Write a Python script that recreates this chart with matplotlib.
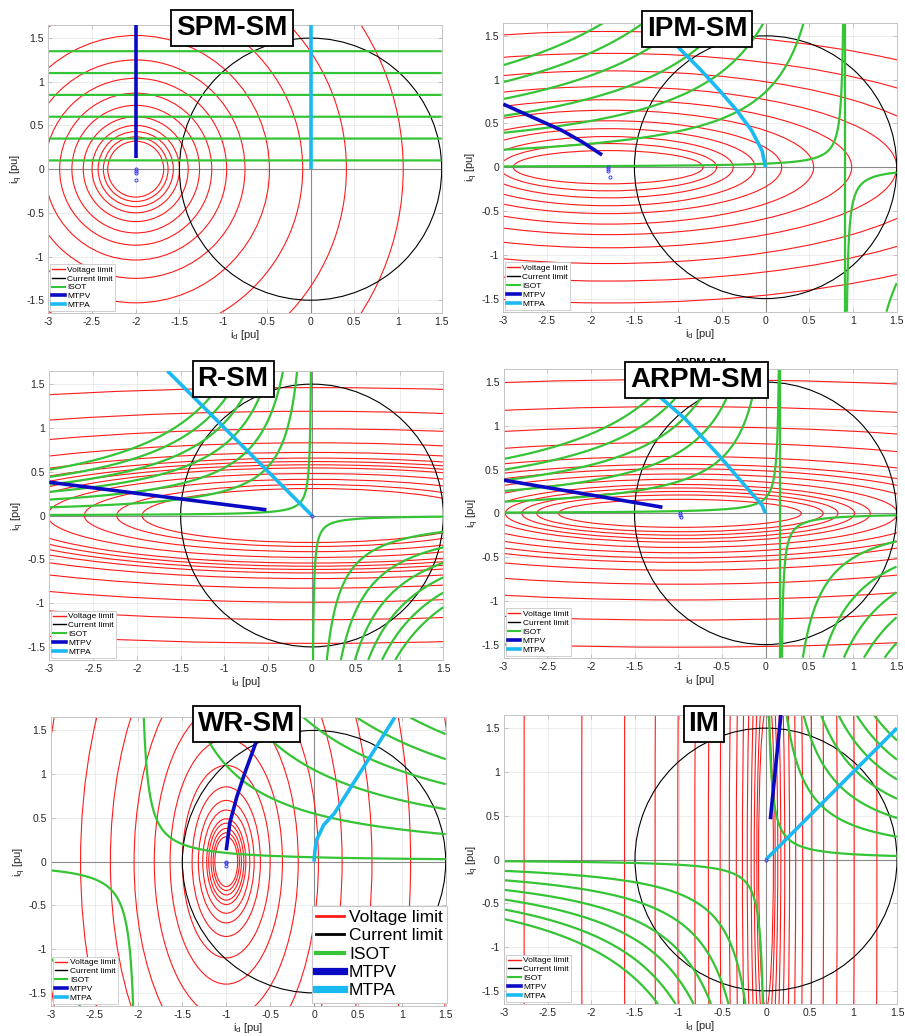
import numpy as np
import matplotlib
matplotlib.use("Agg")
import matplotlib.pyplot as plt
from matplotlib.patches import Ellipse, Circle
from matplotlib.lines import Line2D

plt.rcParams['font.family'] = ['Liberation Sans', 'DejaVu Sans']
plt.rcParams['mathtext.fontset'] = 'custom'
plt.rcParams['mathtext.rm'] = 'Liberation Sans'

# ---------------------------------------------------------------- common
ID_TICKS = [-3, -2.5, -2, -1.5, -1, -0.5, 0, 0.5, 1, 1.5]
IQ_TICKS = [-1.5, -1, -0.5, 0, 0.5, 1, 1.5]
ID_TICK_LABELS = ["-3", "-2.5", "-2", "-1.5", "-1", "-0.5", "0", "0.5", "1", "1.5"]
IQ_TICK_LABELS = ["-1.5", "-1", "-0.5", "0", "0.5", "1", "1.5"]
ID_RANGE = (-3.0, 1.5)
IQ_RANGE = (-1.65, 1.65)
I_MAX = 1.5  # current limit radius [pu]
LEGEND_LABELS = ["Voltage limit", "Current limit", "ISOT", "MTPV", "MTPA"]

# ---------------------------------------------------------------- SPM-SM
SPM_NAME = "SPM-SM"
SPM_V_CENTER = -2.0
SPM_V_SEMI_D = [0.32, 0.37, 0.43, 0.50, 0.60, 0.73, 0.87, 1.04, 1.25, 1.53, 1.91, 2.41, 3.06]
SPM_V_SEMI_Q = [0.32, 0.37, 0.43, 0.50, 0.60, 0.73, 0.87, 1.04, 1.25, 1.53, 1.91, 2.41, 3.06]
SPM_T_C0, SPM_T_C1 = 1.0, 0.0
SPM_T_LEVELS = [0.1, 0.35, 0.6, 0.85, 1.1, 1.35]
SPM_ZERO_T_LINE = False
SPM_MTPV_ID = [-2.0, -2.0]
SPM_MTPV_IQ = [0.13, 1.65]
SPM_MTPA_ID = [0.0, 0.0]
SPM_MTPA_IQ = [0.0, 1.65]
SPM_MARK_ID = [-2.0, -2.0, -2.0, -2.0]
SPM_MARK_IQ = [0.0, -0.02, -0.04, -0.12]

# ---------------------------------------------------------------- IPM-SM
IPM_NAME = "IPM-SM"
IPM_V_CENTER = -1.80
IPM_V_SEMI_D = [1.085, 1.24, 1.43, 1.68, 1.985, 2.35, 2.785, 3.3, 3.9, 4.6, 5.4]
IPM_V_SEMI_Q = [0.19, 0.27, 0.35, 0.44, 0.53, 0.65, 0.77, 0.92, 1.10, 1.30, 1.55]
IPM_T_C0, IPM_T_C1 = 1.0, -1.1
IPM_T_LEVELS = [0.04, 0.86, 1.69, 2.52, 3.35, 4.18, 5.01]
IPM_ZERO_T_LINE = True
IPM_MTPV_ID = [-3.0, -2.71, -2.33, -2.10, -1.87]
IPM_MTPV_IQ = [0.72, 0.59, 0.42, 0.29, 0.14]
IPM_MTPA_ID = [0.0, -0.04, -0.16, -0.33, -0.53, -0.75, -0.96, -1.26]
IPM_MTPA_IQ = [0.0, 0.19, 0.42, 0.65, 0.88, 1.12, 1.33, 1.65]
IPM_MARK_ID = [-1.80, -1.80, -1.80, -1.78]
IPM_MARK_IQ = [0.0, -0.02, -0.04, -0.11]

# ---------------------------------------------------------------- R-SM
RSM_NAME = "R-SM"
RSM_V_CENTER = 0.0
RSM_V_SEMI_D = [1.94, 2.23, 2.60, 3.02, 3.42, 3.65, 3.88, 4.13, 4.54, 5.23, 6.25, 7.49, 9.2]
RSM_V_SEMI_Q = [0.308, 0.354, 0.413, 0.479, 0.543, 0.579, 0.616, 0.656, 0.72, 0.83, 0.99, 1.19, 1.46]
RSM_T_C0, RSM_T_C1 = 0.0, -1.0
RSM_T_LEVELS = [0.02, 0.28, 0.545, 0.81, 1.06, 1.32, 1.57]
RSM_ZERO_T_LINE = False
RSM_MTPV_ID = [-0.52, -3.0]
RSM_MTPV_IQ = [0.065, 0.38]
RSM_MTPA_ID = [0.0, -1.65]
RSM_MTPA_IQ = [0.0, 1.65]
RSM_MARK_ID = [0.0]
RSM_MARK_IQ = [0.0]

# ---------------------------------------------------------------- ARPM-SM
ARPM_NAME = "ARPM-SM"
ARPM_V_CENTER = -0.98
ARPM_V_SEMI_D = [1.39, 1.64, 1.81, 2.0, 2.18, 2.49, 2.86, 3.2, 3.53, 4.12, 5.08, 6.23, 7.7, 9.66]
ARPM_V_SEMI_Q = [0.16, 0.21, 0.25, 0.29, 0.33, 0.39, 0.45, 0.51, 0.56, 0.65, 0.81, 0.99, 1.22, 1.53]
ARPM_T_C0, ARPM_T_C1 = 0.17, -1.0
ARPM_T_LEVELS = [0.03, 0.425, 0.81, 1.2, 1.58, 1.97]
ARPM_ZERO_T_LINE = True
ARPM_MTPV_ID = [-1.18, -3.0]
ARPM_MTPV_IQ = [0.07, 0.38]
ARPM_MTPA_ID = [0.0, -0.04, -0.16, -0.54, -0.92, -1.22, -1.55]
ARPM_MTPA_IQ = [0.0, 0.095, 0.23, 0.67, 1.08, 1.34, 1.65]
ARPM_MARK_ID = [-0.98, -0.98, -0.97]
ARPM_MARK_IQ = [0.0, -0.02, -0.04]

# ---------------------------------------------------------------- WR-SM
WR_NAME = "WR-SM"
WR_V_CENTER = -1.0
WR_V_SEMI_D = [0.13, 0.15, 0.173, 0.2, 0.223, 0.268, 0.318, 0.389, 0.5, 0.64, 0.82, 1.05, 1.32, 1.66, 2.1, 2.6]
WR_V_SEMI_Q = [0.285, 0.33, 0.38, 0.44, 0.49, 0.59, 0.70, 0.855, 1.1, 1.4, 1.8, 2.3, 2.9, 3.6, 4.6, 5.7]
WR_T_C0, WR_T_C1 = 1.0, 0.5
WR_T_LEVELS = [0.05, 0.55, 1.05, 1.55, 2.05, 2.55]
WR_ZERO_T_LINE = False
WR_MTPV_ID = [-1.0, -0.96, -0.88, -0.79, -0.67, -0.55]
WR_MTPV_IQ = [0.13, 0.44, 0.74, 1.01, 1.34, 1.65]
WR_MTPA_ID = [0.0, 0.011, 0.03, 0.11, 0.23, 0.45, 0.69, 0.92]
WR_MTPA_IQ = [0.0, 0.13, 0.25, 0.42, 0.55, 0.90, 1.28, 1.65]
WR_MARK_ID = [-1.0, -1.0, -1.0]
WR_MARK_IQ = [0.0, -0.02, -0.05]

# ---------------------------------------------------------------- IM
IM_NAME = "IM"
IM_V_CENTER = 0.0
IM_V_SEMI_D = [0.085, 0.105, 0.135, 0.17, 0.215, 0.27, 0.34, 0.42, 0.525, 0.66, 0.815, 1.01, 1.27, 1.62, 2.11, 2.77]
IM_V_SEMI_Q = [1.7, 2.1, 2.7, 3.4, 4.3, 5.4, 6.8, 8.4, 10.5, 13.2, 16.3, 20.2, 25.4, 32.4, 42.2, 55.4]
IM_T_C0, IM_T_C1 = 0.0, 1.0
IM_T_LEVELS = [0.06, 0.39, 0.71, 1.04, 1.37, 1.71, 2.04]
IM_ZERO_T_LINE = False
IM_MTPV_ID = [0.05, 0.17]
IM_MTPV_IQ = [0.46, 1.65]
IM_MTPA_ID = [0.0, 1.5]
IM_MTPA_IQ = [0.0, 1.5]
IM_MARK_ID = [0.0]
IM_MARK_IQ = [0.0]

# ---------------------------------------------------------------- styles
RED = "#ff1a1a"
GREEN = "#35c435"
MTPV_C = "#0a0ac4"
MTPA_C = "#1ab9f2"
MARK_C = "#3a3aff"
GRID_C = "#e4e4e4"
SPINE_C = "#c4c4c4"
AXIS0_C = "#8a8a8a"

W_PX, H_PX = 905, 1036


def px_rect(left, top, right, bottom):
    return [left / W_PX, 1 - bottom / H_PX, (right - left) / W_PX, (bottom - top) / H_PX]


panels = [
    dict(name=SPM_NAME, c=SPM_V_CENTER, sd=SPM_V_SEMI_D, sq=SPM_V_SEMI_Q, c0=SPM_T_C0, c1=SPM_T_C1,
         lev=SPM_T_LEVELS, zero=SPM_ZERO_T_LINE, vd=SPM_MTPV_ID, vq=SPM_MTPV_IQ,
         ad=SPM_MTPA_ID, aq=SPM_MTPA_IQ, md=SPM_MARK_ID, mq=SPM_MARK_IQ,
         rect=px_rect(48.3, 25, 441.7, 313.3), box=(232, 28)),
    dict(name=IPM_NAME, c=IPM_V_CENTER, sd=IPM_V_SEMI_D, sq=IPM_V_SEMI_Q, c0=IPM_T_C0, c1=IPM_T_C1,
         lev=IPM_T_LEVELS, zero=IPM_ZERO_T_LINE, vd=IPM_MTPV_ID, vq=IPM_MTPV_IQ,
         ad=IPM_MTPA_ID, aq=IPM_MTPA_IQ, md=IPM_MARK_ID, mq=IPM_MARK_IQ,
         rect=px_rect(503.3, 22.7, 896.7, 311.7), box=(697, 28.5)),
    dict(name=RSM_NAME, c=RSM_V_CENTER, sd=RSM_V_SEMI_D, sq=RSM_V_SEMI_Q, c0=RSM_T_C0, c1=RSM_T_C1,
         lev=RSM_T_LEVELS, zero=RSM_ZERO_T_LINE, vd=RSM_MTPV_ID, vq=RSM_MTPV_IQ,
         ad=RSM_MTPA_ID, aq=RSM_MTPA_IQ, md=RSM_MARK_ID, mq=RSM_MARK_IQ,
         rect=px_rect(49.3, 371, 443.3, 660), box=(233, 379)),
    dict(name=ARPM_NAME, c=ARPM_V_CENTER, sd=ARPM_V_SEMI_D, sq=ARPM_V_SEMI_Q, c0=ARPM_T_C0, c1=ARPM_T_C1,
         lev=ARPM_T_LEVELS, zero=ARPM_ZERO_T_LINE, vd=ARPM_MTPV_ID, vq=ARPM_MTPV_IQ,
         ad=ARPM_MTPA_ID, aq=ARPM_MTPA_IQ, md=ARPM_MARK_ID, mq=ARPM_MARK_IQ,
         rect=px_rect(503.5, 369, 896.5, 657.7), box=(696.5, 379.5)),
    dict(name=WR_NAME, c=WR_V_CENTER, sd=WR_V_SEMI_D, sq=WR_V_SEMI_Q, c0=WR_T_C0, c1=WR_T_C1,
         lev=WR_T_LEVELS, zero=WR_ZERO_T_LINE, vd=WR_MTPV_ID, vq=WR_MTPV_IQ,
         ad=WR_MTPA_ID, aq=WR_MTPA_IQ, md=WR_MARK_ID, mq=WR_MARK_IQ,
         rect=px_rect(50.7, 717.3, 445.7, 1006), box=(246.5, 724)),
    dict(name=IM_NAME, c=IM_V_CENTER, sd=IM_V_SEMI_D, sq=IM_V_SEMI_Q, c0=IM_T_C0, c1=IM_T_C1,
         lev=IM_T_LEVELS, zero=IM_ZERO_T_LINE, vd=IM_MTPV_ID, vq=IM_MTPV_IQ,
         ad=IM_MTPA_ID, aq=IM_MTPA_IQ, md=IM_MARK_ID, mq=IM_MARK_IQ,
         rect=px_rect(504.0, 715, 897.0, 1004), box=(704, 724)),
]


def legend_handles(scale=1.0):
    return [
        Line2D([], [], color=RED, lw=1.0 * scale),
        Line2D([], [], color="black", lw=1.0 * scale),
        Line2D([], [], color=GREEN, lw=1.5 * scale),
        Line2D([], [], color=MTPV_C, lw=2.6 * scale),
        Line2D([], [], color=MTPA_C, lw=2.6 * scale),
    ]


fig = plt.figure(figsize=(W_PX / 100, H_PX / 100), dpi=100)

grid_id = np.linspace(ID_RANGE[0], ID_RANGE[1], 1500)
grid_iq = np.linspace(IQ_RANGE[0], IQ_RANGE[1], 1100)
GID, GIQ = np.meshgrid(grid_id, grid_iq)

axes = []
for p in panels:
    ax = fig.add_axes(p["rect"])
    axes.append(ax)
    ax.set_axisbelow(True)
    ax.grid(True, color=GRID_C, lw=0.5)

    # d/q axes
    ax.axhline(0, color=AXIS0_C, lw=0.8, zorder=1.5)
    ax.axvline(0, color=AXIS0_C, lw=0.8, zorder=1.5)

    # voltage limit ellipses
    for a, b in zip(p["sd"], p["sq"]):
        ax.add_patch(Ellipse((p["c"], 0.0), 2 * a, 2 * b, fill=False, ec=RED, lw=0.8, zorder=2))

    # current limit circle
    ax.add_patch(Circle((0.0, 0.0), I_MAX, fill=False, ec="black", lw=0.8, zorder=2.2))

    # constant torque curves
    torque = GIQ * (p["c0"] + p["c1"] * GID)
    ax.contour(GID, GIQ, torque, levels=sorted(p["lev"]), colors=GREEN, linewidths=1.6, zorder=2.5)
    if p["zero"]:
        ax.axvline(-p["c0"] / p["c1"], color=GREEN, lw=1.6, zorder=2.5)

    # MTPV / MTPA trajectories
    ax.plot(p["vd"], p["vq"], color=MTPV_C, lw=2.6, solid_capstyle="butt", zorder=3)
    ax.plot(p["ad"], p["aq"], color=MTPA_C, lw=2.6, solid_capstyle="butt", zorder=3)
    ax.plot(p["md"], p["mq"], "o", ms=2.2, mfc="none", mec=MARK_C, mew=0.7, zorder=3.5)

    ax.set_xlim(*ID_RANGE)
    ax.set_ylim(*IQ_RANGE)
    ax.set_xticks(ID_TICKS)
    ax.set_xticklabels(ID_TICK_LABELS)
    ax.set_yticks(IQ_TICKS)
    ax.set_yticklabels(IQ_TICK_LABELS)
    ax.tick_params(direction="in", length=3, width=0.5, color="#b0b0b0", labelsize=7.5,
                   labelcolor="#262626", pad=3, top=True, right=True)
    for s in ax.spines.values():
        s.set_color(SPINE_C)
        s.set_linewidth(0.7)
    ax.set_xlabel(r"i$_\mathregular{d}$ [pu]", fontsize=8, labelpad=0.5, color="#262626")
    ax.set_ylabel(r"i$_\mathregular{q}$ [pu]", fontsize=8, labelpad=0.5, color="#262626")

    leg = ax.legend(legend_handles(), LEGEND_LABELS, loc="lower left", fontsize=6,
                    frameon=True, fancybox=False, framealpha=1, edgecolor="#c8c8c8",
                    borderpad=0.25, labelspacing=0.12, handlelength=1.5, handletextpad=0.3,
                    borderaxespad=0.25)
    leg.get_frame().set_linewidth(0.6)
    leg.set_zorder(6)

    # machine name tag
    bx, by = p["box"]
    fig.text(bx / W_PX, 1 - by / H_PX, p["name"], fontsize=20, fontweight="bold",
             ha="center", va="center", zorder=10,
             bbox=dict(boxstyle="square,pad=0.18", fc="white", ec="black", lw=1.3))

# ARPM-SM heading sitting behind its tag
fig.text(700 / W_PX, 1 - 363 / H_PX, ARPM_NAME, fontsize=8, fontweight="bold",
         ha="center", va="center", zorder=9)

# enlarged legend in the WR-SM panel
ax_wr = axes[4]
small_leg = ax_wr.get_legend()
big_leg = ax_wr.legend(legend_handles(2.0), LEGEND_LABELS, loc="lower right",
                       bbox_to_anchor=(1.012, 0.0), fontsize=12.5, frameon=True, fancybox=False,
                       framealpha=1, edgecolor="#c8c8c8", borderpad=0.25, labelspacing=0.18,
                       handlelength=1.6, handletextpad=0.3, borderaxespad=0.2)
big_leg.get_frame().set_linewidth(0.8)
big_leg.set_zorder(6)
ax_wr.add_artist(small_leg)

fig.savefig("out.png", dpi=100)
